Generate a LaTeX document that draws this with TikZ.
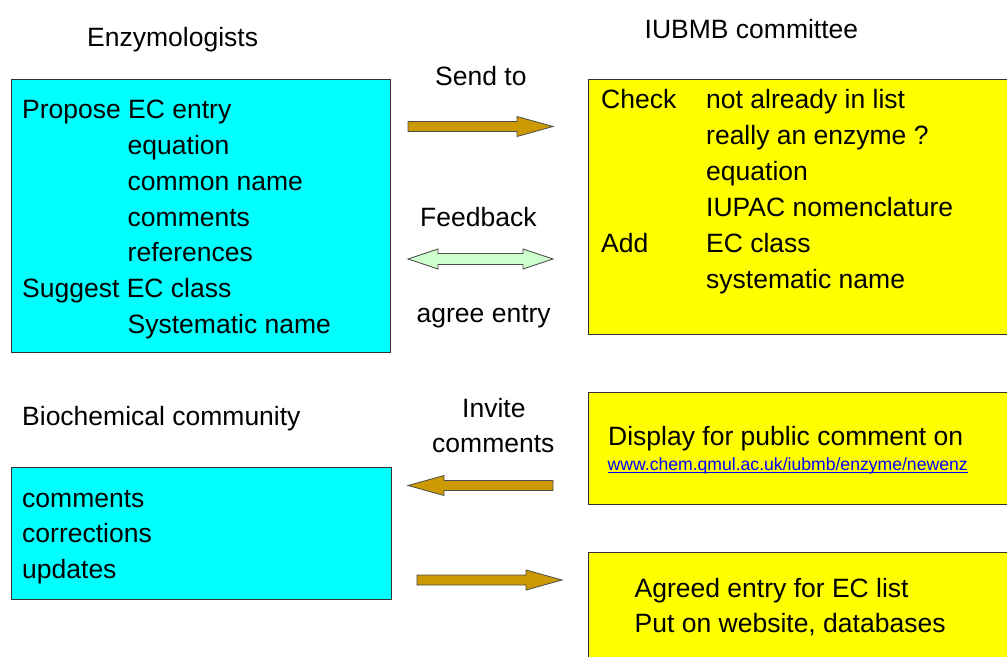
\documentclass[tikz,border=0pt]{standalone}
\usepackage{fontspec}
\setmainfont{Liberation Sans}
\definecolor{boxcyan}{HTML}{00FFFF}
\definecolor{boxyellow}{HTML}{FFFF00}
\definecolor{arrowgold}{HTML}{CC9900}
\definecolor{arrowmint}{HTML}{CCFFCC}
\definecolor{linkblue}{HTML}{0000FF}
\begin{document}
\begin{tikzpicture}[x=1bp,y=-1bp,
  txt/.style={anchor=base west, inner sep=0pt, font=\fontsize{26.5bp}{36bp}\selectfont},
  linktxt/.style={anchor=base west, inner sep=0pt, text=linkblue, font=\fontsize{17.6bp}{20bp}\selectfont},
  panel/.style={draw=black!80, line width=1bp, inner sep=0pt},
  cyanpanel/.style={panel, fill=boxcyan},
  yellowpanel/.style={panel, fill=boxyellow},
  goldarrow/.style={draw=black!70, line width=0.8bp, fill=arrowgold},
  mintarrow/.style={draw=black!70, line width=0.8bp, fill=arrowmint},
  blockarrow/.pic={
    \path[pic actions] (0,-5) -- (109,-5) -- (109,-10) -- (145,0)
      -- (109,10) -- (109,5) -- (0,5) -- cycle;
  },
  twowayarrow/.pic={
    \path[pic actions] (0,0) -- (30,-10) -- (30,-5.5) -- (115,-5.5)
      -- (115,-10) -- (145,0) -- (115,10) -- (115,5.5) -- (30,5.5)
      -- (30,10) -- cycle;
  }
]
\useasboundingbox (0,0) rectangle (1007,657);
\clip (0,0) rectangle (1007,657);
\fill[white] (0,0) rectangle (1007,657);

% panels
\node[cyanpanel, minimum width=379bp, minimum height=273bp] (enzbox) at (201,216) {};
\node[cyanpanel, minimum width=379bp, minimum height=132bp] (commbox) at (201.5,533) {};
\node[yellowpanel, minimum width=430bp, minimum height=255bp] (checkbox) at (803,207) {};
\node[yellowpanel, minimum width=430bp, minimum height=112bp] (displaybox) at (803,448) {};
\node[yellowpanel, minimum width=430bp, minimum height=112bp] (agreedbox) at (803,608) {};

% headings
\node[txt] (hEnz) at (87,46.5) {Enzymologists};
\node[txt] (hIubmb) at (644.5,39) {IUBMB committee};
\node[txt] (hBio) at (22,425) {Biochemical community};

% proposal panel
\node[txt] (pPropose) at (22,119) {Propose EC entry};
\foreach \t [count=\i] in {equation, common name, comments, references}
  \node[txt] (pItem\i) at (127.5,119+35.7*\i) {\t};
\node[txt] (pSuggest) at (22,297.8) {Suggest EC class};
\node[txt] (pSysname) at (127.5,333.5) {Systematic name};

% committee panel
\node[txt] (cCheck) at (601,108.3) {Check};
\foreach \t [count=\i from 0] in {not already in list, really an enzyme ?, equation, IUPAC nomenclature}
  \node[txt] (cItem\i) at (706,108.3+36*\i) {\t};
\node[txt] (cAdd) at (601,252.3) {Add};
\node[txt] (cEcclass) at (706,252.3) {EC class};
\node[txt] (cSysname) at (706,288.3) {systematic name};

% community panel
\node[txt] (bComments) at (22,507) {comments};
\node[txt] (bCorrections) at (22,542.5) {corrections};
\node[txt] (bUpdates) at (22,578) {updates};

% public display panel
\node[txt] (dDisplay) at (608,445) {Display for public comment on};
\node[linktxt] (dLink) at (607.5,470) {www.chem.qmul.ac.uk/iubmb/enzyme/newenz};
\draw[linkblue, line width=0.9bp] ([yshift=-2.5bp]dLink.base west) -- ([yshift=-2.5bp]dLink.base east);

% agreed entry panel
\node[txt] (aAgreed) at (634.5,597) {Agreed entry for EC list};
\node[txt] (aPut) at (634.5,632.5) {Put on website, databases};

% arrow labels
\node[txt] (lSend) at (435,86) {Send to};
\node[txt] (lFeedback) at (420,226) {Feedback};
\node[txt] (lAgree) at (416.5,322) {agree entry};
\node[txt] (lInvite) at (462,417) {Invite};
\node[txt] (lComments) at (432,452) {comments};

% block arrows
\pic[goldarrow] at (408,126.5) {blockarrow};
\pic[mintarrow] at (408,259) {twowayarrow};
\pic[goldarrow, xscale=-1] at (553,485.5) {blockarrow};
\pic[goldarrow] at (417,580) {blockarrow};
\end{tikzpicture}
\end{document}
